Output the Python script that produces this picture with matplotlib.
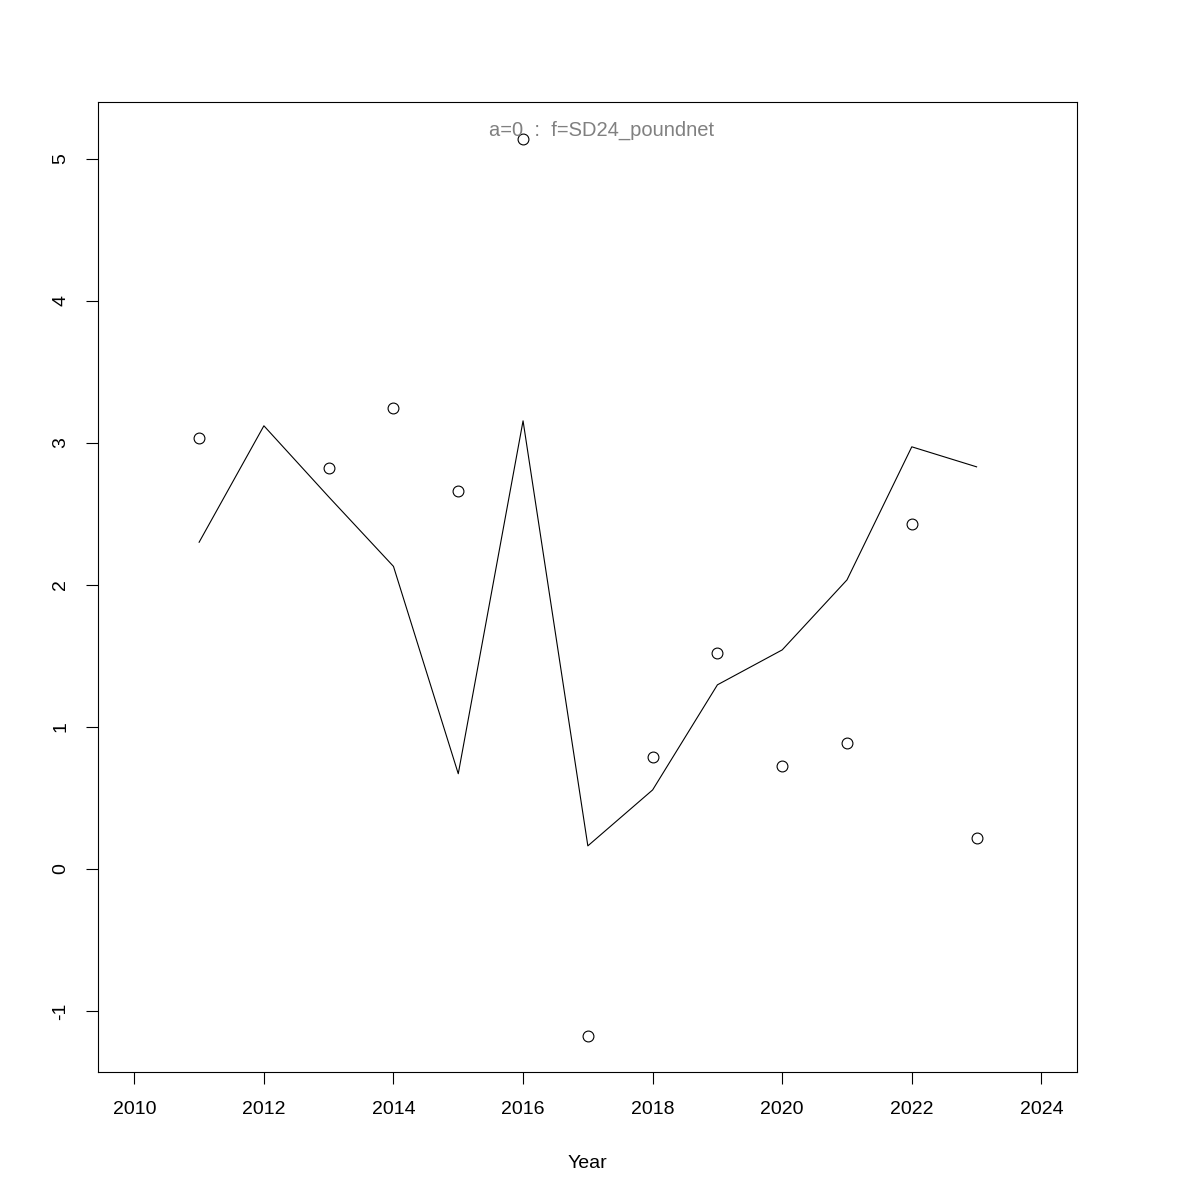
import numpy as np
import matplotlib
matplotlib.use("Agg")
from matplotlib import pyplot as plt

plt.rcParams['font.family'] = ['Liberation Sans', 'DejaVu Sans']
plt.rcParams['axes.unicode_minus'] = False

years = [2011, 2012, 2013, 2014, 2015, 2016, 2017, 2018, 2019, 2020, 2021, 2022, 2023]
fitted = [2.30, 3.12, 2.62, 2.13, 0.67, 3.155, 0.162, 0.556, 1.296, 1.542, 2.035, 2.972, 2.831]
obs_years = [2011, 2013, 2014, 2015, 2016, 2017, 2018, 2019, 2020, 2021, 2022, 2023]
observed = [3.035, 2.824, 3.246, 2.662, 5.14, -1.176, 0.789, 1.521, 0.725, 0.887, 2.43, 0.218]
xticks = [2010, 2012, 2014, 2016, 2018, 2020, 2022, 2024]
yticks = [-1, 0, 1, 2, 3, 4, 5]

fig = plt.figure(figsize=(12, 12), dpi=100)
ax = fig.add_axes([0.0817, 0.1067, 0.8158, 0.8083])

ax.plot(years, fitted, color='black', lw=0.8)
ax.plot(obs_years, observed, 'o', mfc='none', mec='black', ms=7.8, mew=0.8)

ax.set_xlim(2009.44, 2024.55)
ax.set_ylim(-1.43, 5.40)
ax.set_xticks(xticks)
ax.set_yticks(yticks)
ax.tick_params(direction='out', length=8.6, width=0.8, labelsize=14, pad=12)
for lab in ax.get_yticklabels():
    lab.set_rotation(90)
    lab.set_va('center')
for s in ax.spines.values():
    s.set_linewidth(0.8)

ax.set_xlabel('Year', fontsize=14, labelpad=27)
ax.text(0.514, 0.981, 'a=0  :  f=SD24_poundnet', transform=ax.transAxes,
        ha='center', va='top', color='gray', fontsize=14.5)

fig.savefig('out.png', dpi=100)
